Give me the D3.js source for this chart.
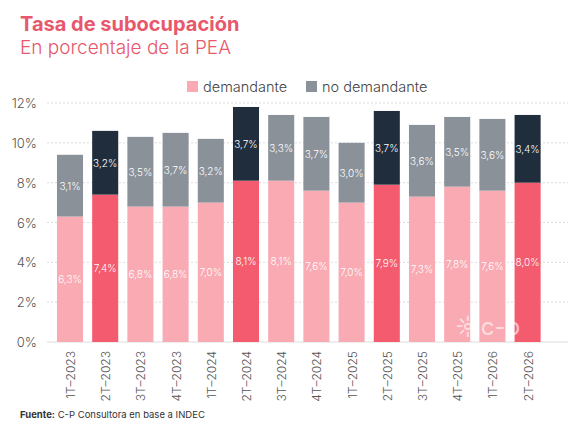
<!DOCTYPE html><html><head><meta charset="utf-8">
<script src="https://cdn.jsdelivr.net/npm/d3@7"></script>
<style>body{margin:0;background:#fff;font-family:Inter,"Open Sans",sans-serif}</style></head><body>
<svg id="c" width="580" height="426"></svg>
<script>
const categories=["1T-2023","2T-2023","3T-2023","4T-2023","1T-2024","2T-2024","3T-2024","4T-2024","1T-2025","2T-2025","3T-2025","4T-2025","1T-2026","2T-2026"];
const demandante=[6.3,7.4,6.8,6.8,7.0,8.1,8.1,7.6,7.0,7.9,7.3,7.8,7.6,8.0];
const noDemandante=[3.1,3.2,3.5,3.7,3.2,3.7,3.3,3.7,3.0,3.7,3.6,3.5,3.6,3.4];
const yTicks=[0,2,4,6,8,10,12];
const svg=d3.select("#c");
const x=d3.scaleBand().domain(categories).range([52.4,545.2]).paddingInner(0.26).paddingOuter(0.13);
const y=d3.scaleLinear().domain([0,12]).range([342,103]);
const hl=c=>c.startsWith("2T");
const fmt=v=>v.toFixed(1).replace(".",",")+"%";
svg.append("text").attr("x",20).attr("y",31).attr("fill","#e8576b").attr("font-size",20).attr("font-weight",700).text("Tasa de subocupación");
svg.append("text").attr("x",20).attr("y",54).attr("fill","#e8576b").attr("font-size",19).attr("font-weight",300).text("En porcentaje de la PEA");
svg.append("g").selectAll("line").data(yTicks).join("line").attr("x1",47).attr("x2",568).attr("y1",d=>y(d)).attr("y2",d=>y(d)).attr("stroke","#ddd").attr("stroke-dasharray",d=>d===0?null:"2,2");
svg.append("g").selectAll("text").data(yTicks).join("text").attr("x",37).attr("y",d=>y(d)+5).attr("text-anchor","end").attr("font-size",13).attr("font-weight",300).attr("fill","#555").text(d=>d+"%");
const g=svg.append("g");
categories.forEach((c,i)=>{
 const d=demandante[i],n=noDemandante[i],x0=x(c),w=x.bandwidth();
 g.append("rect").attr("x",x0).attr("width",w).attr("y",y(d)).attr("height",y(0)-y(d)).attr("fill",hl(c)?"#f45b6e":"#f9aab3");
 g.append("rect").attr("x",x0).attr("width",w).attr("y",y(d+n)).attr("height",y(d)-y(d+n)).attr("fill",hl(c)?"#1f2d3d":"#8a9199");
 g.append("text").attr("x",x0+w/2).attr("y",(y(0)+y(d))/2+4).attr("text-anchor","middle").attr("fill","#fff").attr("font-size",10).attr("font-weight",300).text(fmt(d));
 g.append("text").attr("x",x0+w/2).attr("y",(y(d)+y(d+n))/2+4).attr("text-anchor","middle").attr("fill","#fff").attr("font-size",10).attr("font-weight",300).text(fmt(n));
 svg.append("text").attr("transform",`translate(${x0+w/2+5},351) rotate(-90)`).attr("text-anchor","end").attr("font-size",12).attr("font-weight",300).attr("fill","#555").text(c.replace("-","–"));
});
const lg=svg.append("g").attr("transform","translate(187,81)");
lg.append("rect").attr("width",11).attr("height",11).attr("fill","#f9aab3");
lg.append("text").attr("x",16).attr("y",11).attr("font-size",14.5).attr("font-weight",300).attr("fill","#444").text("demandante");
lg.append("rect").attr("x",119).attr("width",11).attr("height",11).attr("fill","#8a9199");
lg.append("text").attr("x",135).attr("y",11).attr("font-size",14.5).attr("font-weight",300).attr("fill","#444").text("no demandante");
svg.append("text").attr("x",20).attr("y",418).attr("font-size",9.5).attr("fill","#333").html('<tspan font-weight="700">Fuente:</tspan> C-P Consultora en base a INDEC');
svg.append("text").attr("x",455).attr("y",335).attr("font-size",24).attr("fill","#fff").attr("opacity",0.6).text("☼c-p");
</script></body></html>
